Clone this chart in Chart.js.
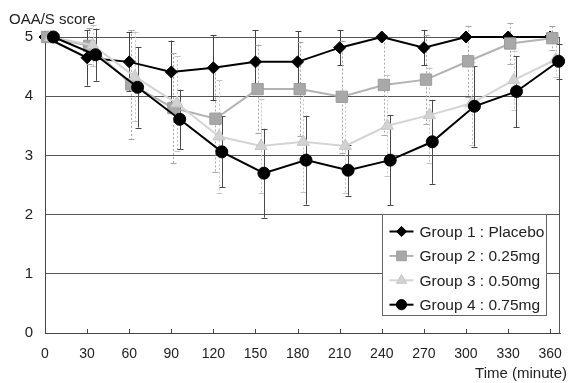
<!DOCTYPE html>
<html><head><meta charset="utf-8">
<script src="https://cdn.jsdelivr.net/npm/chart.js@4/dist/chart.umd.min.js"></script>
<style>html,body{margin:0;padding:0;background:#fff;}#wrap{width:569px;height:383px;position:relative;}</style>
</head><body><div id="wrap"><canvas id="c" width="569" height="383"></canvas></div>
<script>
// ---- data ----
const times = [0, 30, 60, 90, 120, 150, 180, 210, 240, 270, 300, 330, 360];
const xTickLabels = ['0','30','60','90','120','150','180','210','240','270','300','330','360'];
const yTickValues = [0, 1, 2, 3, 4, 5];
const groupNames = ['Group 1 : Placebo', 'Group 2 : 0.25mg', 'Group 3 : 0.50mg', 'Group 4 : 0.75mg'];
const groupTimeShift = [0, 1.5, 4, 6]; // minutes, horizontal offset of each group's points
const g1Mean = [5.0, 4.65, 4.58, 4.41, 4.48, 4.58, 4.58, 4.82, 5.0, 4.82, 5.0, 5.0, 5.0];
const g1Sd   = [0, 0.47, 0.5, 0.53, 0.55, 0.53, 0.52, 0.3, 0, 0.3, 0, 0, 0];
const g2Mean = [5.0, 4.85, 4.2, 3.8, 3.62, 4.12, 4.12, 3.99, 4.19, 4.28, 4.59, 4.89, 4.98];
const g2Sd   = [0, 0.3, 0.92, 0.93, 0.9, 0.75, 0.8, 0.95, 0.85, 0.75, 0.6, 0.35, 0.2];
const g3Mean = [5.0, 4.86, 4.33, 3.88, 3.32, 3.16, 3.23, 3.16, 3.5, 3.68, 3.88, 4.27, 4.62];
const g3Sd   = [0, 0.35, 0.75, 0.8, 0.95, 0.8, 0.85, 0.8, 0.85, 0.8, 0.7, 0.5, 0.3];
const g4Mean = [5.0, 4.7, 4.15, 3.61, 3.06, 2.7, 2.92, 2.75, 2.92, 3.23, 3.83, 4.08, 4.59];
const g4Sd   = [0, 0.44, 0.68, 0.5, 0.6, 0.75, 0.75, 0.43, 0.76, 0.71, 0.68, 0.6, 0.3];

const means = [g1Mean, g2Mean, g3Mean, g4Mean];
const sds = [g1Sd, g2Sd, g3Sd, g4Sd];

// ---- styles ----
const FONT = "'Liberation Sans', Arial, sans-serif";
const styles = [
  {line:'#000000', fill:'#000000', edge:'#000000', shape:'rectRot', r:6, bar:'#444444', dash:[]},
  {line:'#b2b2b2', fill:'#a8a8a8', edge:'#9c9c9c', shape:'rect', r:8, bar:'#a8a8a8', dash:[2,2]},
  {line:'#d4d4d4', fill:'#d2d2d2', edge:'#c8c8c8', shape:'triangle', r:7, bar:'#c6c6c6', dash:[2,2]},
  {line:'#000000', fill:'#000000', edge:'#000000', shape:'circle', r:6, bar:'#4a4a4a', dash:[]}
];

const datasets = means.map((m, i) => ({
  label: groupNames[i],
  data: times.map((t, j) => ({x: t + groupTimeShift[i], y: m[j]})),
  showLine: true,
  borderColor: styles[i].line,
  borderWidth: 2,
  backgroundColor: styles[i].fill,
  pointBackgroundColor: styles[i].fill,
  pointBorderColor: styles[i].edge,
  pointBorderWidth: 1,
  pointStyle: styles[i].shape,
  pointRadius: styles[i].r,
  pointHoverRadius: styles[i].r,
  tension: 0,
  clip: false,
  order: 3 - i
}));

const errorBars = {
  id: 'errorBars',
  beforeDatasetsDraw(chart) {
    const ctx = chart.ctx, ys = chart.scales.y;
    ctx.save();
    ctx.strokeStyle = '#444'; ctx.lineWidth = 1;
    const xs = chart.scales.x, bottom = chart.chartArea.bottom;
    times.forEach(t => {
      const px = Math.round(xs.getPixelForValue(t)) + 0.5;
      ctx.beginPath(); ctx.moveTo(px, bottom); ctx.lineTo(px, bottom - 4); ctx.stroke();
    });
    ctx.beginPath();
    ctx.moveTo(Math.round(chart.chartArea.right) - 0.5, chart.chartArea.top);
    ctx.lineTo(Math.round(chart.chartArea.right) - 0.5, chart.chartArea.bottom);
    ctx.strokeStyle = '#555'; ctx.stroke();
    for (let i = 0; i < means.length; i++) {
      const meta = chart.getDatasetMeta(i);
      ctx.strokeStyle = styles[i].bar; ctx.lineWidth = 1;
      meta.data.forEach((pt, j) => {
        const sd = sds[i][j];
        if (!sd) return;
        const x = Math.round(pt.x) + 0.5;
        const y1 = ys.getPixelForValue(means[i][j] + sd);
        const y2 = ys.getPixelForValue(means[i][j] - sd);
        ctx.setLineDash(styles[i].dash);
        ctx.beginPath(); ctx.moveTo(x, y1); ctx.lineTo(x, y2); ctx.stroke();
        ctx.setLineDash([]);
        ctx.beginPath();
        ctx.moveTo(x - 3, Math.round(y1) + 0.5); ctx.lineTo(x + 3, Math.round(y1) + 0.5);
        ctx.moveTo(x - 3, Math.round(y2) + 0.5); ctx.lineTo(x + 3, Math.round(y2) + 0.5);
        ctx.stroke();
      });
    }
    ctx.restore();
  }
};

const overlay = {
  id: 'overlay',
  afterDraw(chart) {
    const ctx = chart.ctx, ca = chart.chartArea;
    ctx.save();
    ctx.fillStyle = '#222';
    ctx.font = '15px ' + FONT;
    ctx.textBaseline = 'alphabetic';
    ctx.textAlign = 'left';
    ctx.fillText('OAA/S score', 9, 24);
    ctx.textAlign = 'right';
    ctx.fillText('Time (minute)', 567, 378);
    const bx = Math.round(ca.right) - 177.5, by = Math.round(ca.bottom) - 118.5, bw = 164, bh = 101;
    ctx.fillStyle = '#fff';
    ctx.fillRect(bx, by, bw, bh);
    ctx.strokeStyle = '#666'; ctx.lineWidth = 1;
    ctx.strokeRect(bx, by, bw, bh);
    ctx.textAlign = 'left'; ctx.textBaseline = 'middle';
    groupNames.forEach((name, i) => {
      const cy = by + 17 + i * 24.4;
      const st = styles[i];
      ctx.strokeStyle = st.line; ctx.lineWidth = 2;
      ctx.beginPath(); ctx.moveTo(bx + 7, cy); ctx.lineTo(bx + 31, cy); ctx.stroke();
      ctx.fillStyle = st.fill; ctx.strokeStyle = st.edge; ctx.lineWidth = 1;
      Chart.helpers.drawPoint(ctx, {pointStyle: st.shape, radius: st.r * 0.85, borderWidth: 1, rotation: 0}, bx + 19, cy);
      ctx.fillStyle = '#222';
      ctx.font = '15.5px ' + FONT;
      ctx.fillText(name, bx + 37, cy + 1);
    });
    ctx.restore();
  }
};

new Chart(document.getElementById('c'), {
  type: 'scatter',
  data: {datasets},
  options: {
    responsive: false, animation: false, devicePixelRatio: 1,
    layout: {padding: {top: 37, right: 6, left: 0, bottom: 0}},
    plugins: {legend: {display: false}, tooltip: {enabled: false}},
    scales: {
      x: {
        type: 'linear', min: 0, max: 367,
        afterBuildTicks: s => { s.ticks = times.map(v => ({value: v})); },
        afterFit: s => { s.height = 50; s.paddingLeft = 0; s.paddingRight = 0; },
        grid: {display: false, drawTicks: false},
        border: {display: true, color: '#444', width: 1},
        ticks: {
          autoSkip: false, maxRotation: 0, padding: 13, color: '#222',
          font: {family: FONT, size: 14},
          callback: (v) => { const k = times.indexOf(v); return k >= 0 ? xTickLabels[k] : ''; }
        }
      },
      y: {
        min: 0, max: 5,
        afterBuildTicks: s => { s.ticks = yTickValues.map(v => ({value: v})); },
        afterFit: s => { s.width = 45; },
        grid: {color: '#555', drawTicks: false, lineWidth: 1},
        border: {display: true, color: '#444', width: 1},
        ticks: {padding: 12, color: '#222', font: {family: FONT, size: 15}}
      }
    }
  },
  plugins: [errorBars, overlay]
});
</script>
</body></html>
